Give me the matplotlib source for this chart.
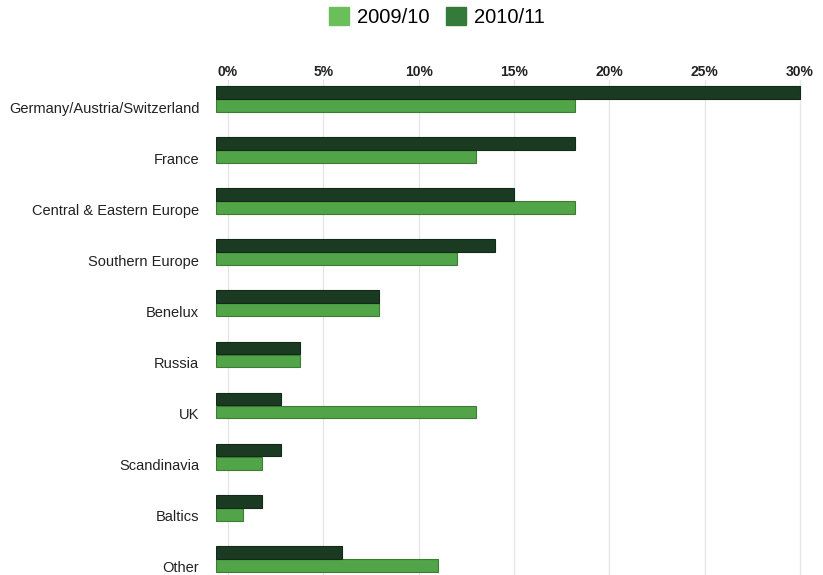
import matplotlib.pyplot as plt
from matplotlib.patches import Patch

# datos
regiones = ['Germany/Austria/Switzerland', 'France', 'Central & Eastern Europe',
            'Southern Europe', 'Benelux', 'Russia', 'UK', 'Scandinavia',
            'Baltics', 'Other']
v_2009 = [18.2, 13, 18.2, 12, 7.9, 3.8, 13, 1.8, 0.8, 11]
v_2010 = [30, 18.2, 15, 14, 7.9, 3.8, 2.8, 2.8, 1.8, 6]
ticks = [0, 5, 10, 15, 20, 25, 30]

plt.rcParams['font.family'] = ['Liberation Sans', 'DejaVu Sans']

fig = plt.figure(figsize=(8.23, 5.75), dpi=100)
ax = fig.add_axes([216 / 823, 0, (802 - 216) / 823, 495 / 575])

# el efecto 3D: las barras arrancan un poco antes del 0
x0 = -0.63
ax.set_xlim(x0, 30.1)

y = list(range(len(regiones)))
y_osc = [i - 0.255 for i in y]

ax.barh(y, [v - x0 for v in v_2009], left=x0, height=0.25, color='#52a448',
        edgecolor='#3c7d34', linewidth=0.8, zorder=3)
ax.barh(y_osc, [v - x0 for v in v_2010], left=x0, height=0.25, color='#1b3a22',
        edgecolor='#122a17', linewidth=0.8, zorder=3)

ax.set_ylim(9.19, -0.5)
ax.set_xticks(ticks)
ax.set_xticklabels([f'{t}%' for t in ticks], fontsize=10, fontweight='bold', color='#222222')
ax.xaxis.tick_top()
ax.tick_params(axis='x', length=0, pad=1)
ax.set_yticks([i + 0.03 for i in y])
ax.set_yticklabels(regiones, fontsize=10.5, color='#222222')
ax.tick_params(axis='y', length=0, pad=12)
ax.grid(axis='x', color='#e6e6e6', linewidth=1, zorder=0)
for s in ax.spines.values():
    s.set_visible(False)

# leyenda arriba
handles = [Patch(color='#6abf5a', label='2009/10'), Patch(color='#347a38', label='2010/11')]
fig.legend(handles=handles, loc='center', bbox_to_anchor=(437 / 823, 1 - 17 / 575), ncol=2,
           frameon=False, fontsize=14.5, handlelength=1.0, handleheight=1.0,
           handletextpad=0.4, columnspacing=0.8)

plt.savefig('out.png')
